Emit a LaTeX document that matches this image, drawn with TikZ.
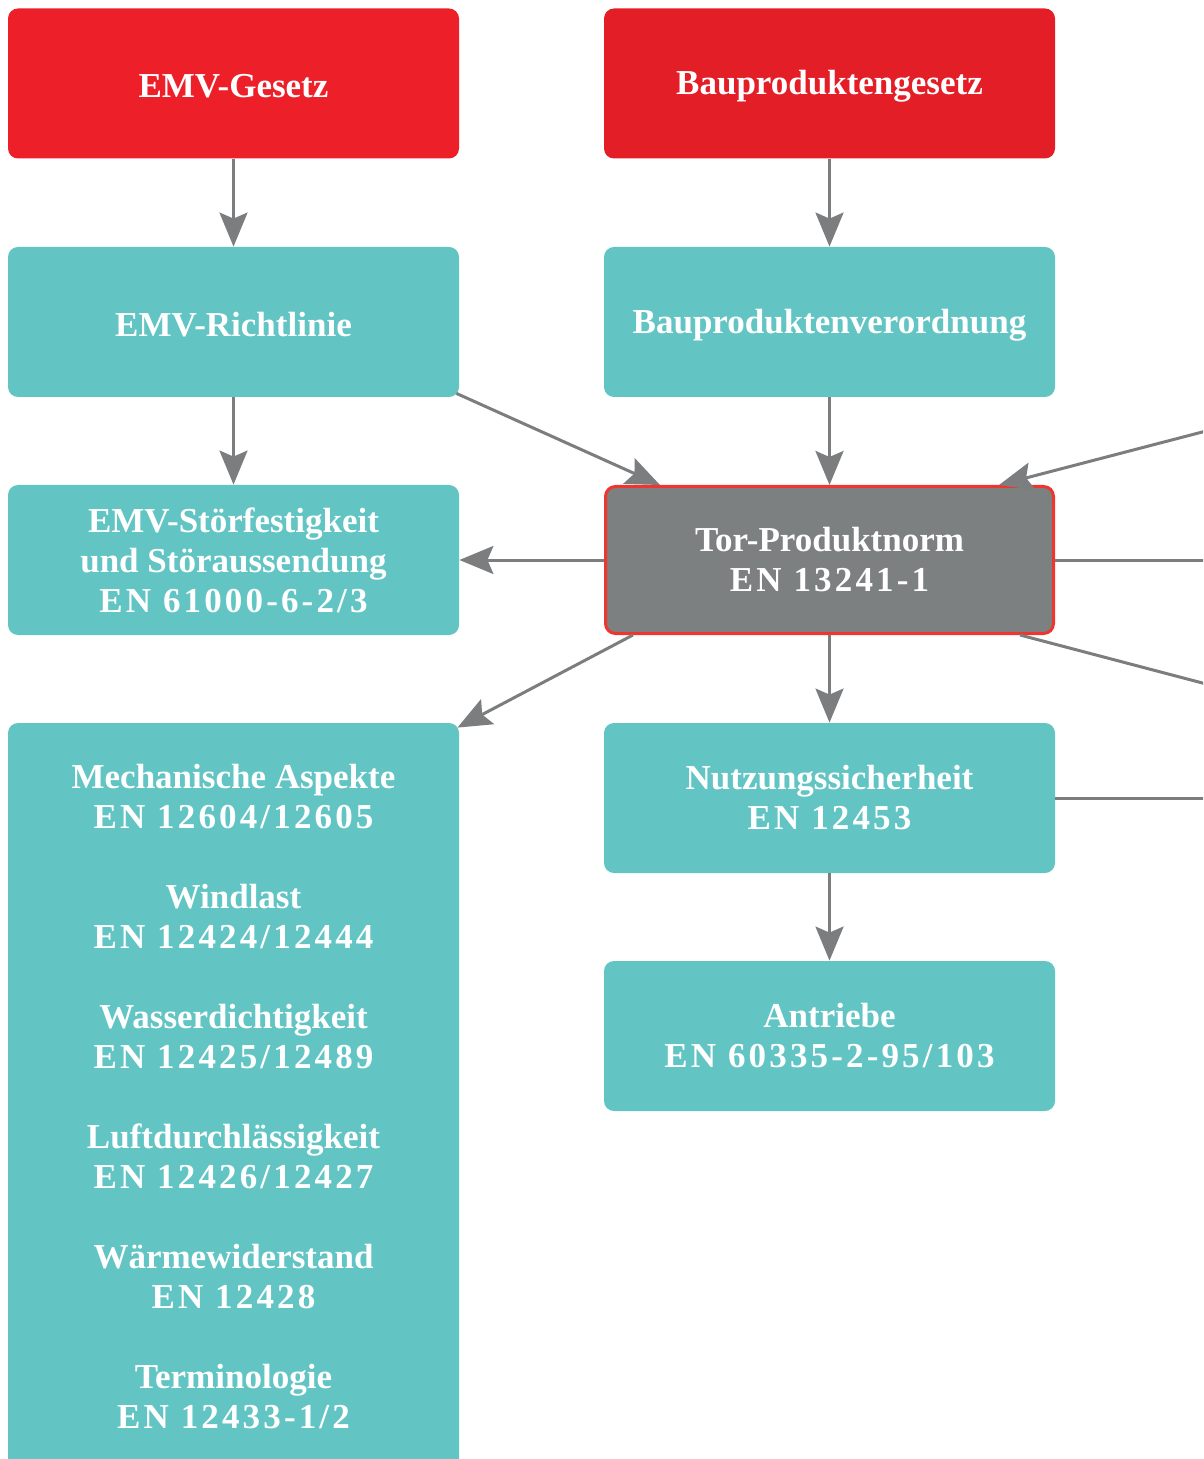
\documentclass[tikz,border=0pt]{standalone}
\usepackage{fontspec}
\setmainfont{Liberation Serif}
\newfontfamily\numf[LetterSpace=9]{Liberation Serif}
\usetikzlibrary{arrows.meta,calc}
\definecolor{redA}{HTML}{ED2029}
\definecolor{redB}{HTML}{E31E27}
\definecolor{tealbox}{HTML}{62C5C4}
\definecolor{graybox}{HTML}{7D8081}
\definecolor{redline}{HTML}{EE3530}
\definecolor{conn}{HTML}{7B7D7E}
\newcommand{\ennum}[1]{{\numf\bfseries #1}}
\newcommand{\lowtxt}[1]{\raisebox{-1.5pt}[\height][\depth]{#1}}
\tikzset{
  box/.style={rounded corners=5pt, minimum width=225.5pt, minimum height=75pt, inner sep=0pt,
    text=white, align=center, font=\fontsize{17.5pt}{20pt}\selectfont\bfseries},
  redbox/.style={box, fill=redA},
  tealnode/.style={box, fill=tealbox},
  centerbox/.style={box, fill=graybox, draw=redline, line width=1.5pt, minimum width=224pt, minimum height=73.5pt},
  arr/.style={draw=conn, line width=1.5pt, -{Stealth[length=17pt,width=14pt,inset=3pt]}},
  plain/.style={draw=conn, line width=1.5pt}
}
\begin{document}
\begin{tikzpicture}[x=0.5pt,y=-0.5pt]
\useasboundingbox (0,0) rectangle (1203,1459);
\clip (0,0) rectangle (1203,1459);
\node[redbox] (emvg) at (233.5,83.5) {\lowtxt{EMV-Gesetz}};
\node[redbox, fill=redB] (bpg) at (829.5,83.5) {\lowtxt{Bauproduktengesetz}};
\node[tealnode] (emvr) at (233.5,322) {\lowtxt{EMV-Richtlinie}};
\node[tealnode] (bpv) at (829.5,322) {\lowtxt{Bauproduktenverordnung}};
\node[tealnode] (emvs) at (233.5,560) {EMV-Störfestigkeit\\und Störaussendung\\\ennum{EN 61000-6-2/3}};
\node[centerbox] (tor) at (829.5,560) {Tor-Produktnorm\\\ennum{EN 13241-1}};
\node[tealnode, minimum height=374pt] (big) at (233.5,1097) {Mechanische Aspekte\\\ennum{EN 12604/12605}\\[20pt]Windlast\\\ennum{EN 12424/12444}\\[20pt]Wasserdichtigkeit\\\ennum{EN 12425/12489}\\[20pt]Luftdurchlässigkeit\\\ennum{EN 12426/12427}\\[20pt]Wärmewiderstand\\\ennum{EN 12428}\\[20pt]Terminologie\\\ennum{EN 12433-1/2}};
\node[tealnode] (nutz) at (829.5,798) {Nutzungssicherheit\\\ennum{EN 12453}};
\node[tealnode] (antr) at (829.5,1036) {Antriebe\\\ennum{EN 60335-2-95/103}};
\coordinate (r1) at (1210,430);
\coordinate (r2) at (1210,560);
\coordinate (r3) at (1210,685);
\coordinate (r4) at (1210,798);
\path[arr] (emvg.south) -- (emvr.north);
\path[arr] (bpg.south) -- (bpv.north);
\path[arr] (emvr.south) -- (emvs.north);
\path[arr] (bpv.south) -- (tor.north);
\path[arr] ($(emvr.south east)+(-3,-4)$) -- ($(tor.north west)+(56,0)$);
\path[arr] (r1) -- ($(tor.north east)+(-56,0)$);
\path[arr] (tor.west) -- (emvs.east);
\path[arr] ($(tor.south west)+(29,0)$) -- ($(big.north east)+(-2,5)$);
\path[arr] (tor.south) -- (nutz.north);
\path[arr] (nutz.south) -- (antr.north);
\path[plain] (tor.east) -- (r2);
\path[plain] ($(tor.south east)+(-35,0)$) -- (r3);
\path[plain] (nutz.east) -- (r4);
\end{tikzpicture}
\end{document}
